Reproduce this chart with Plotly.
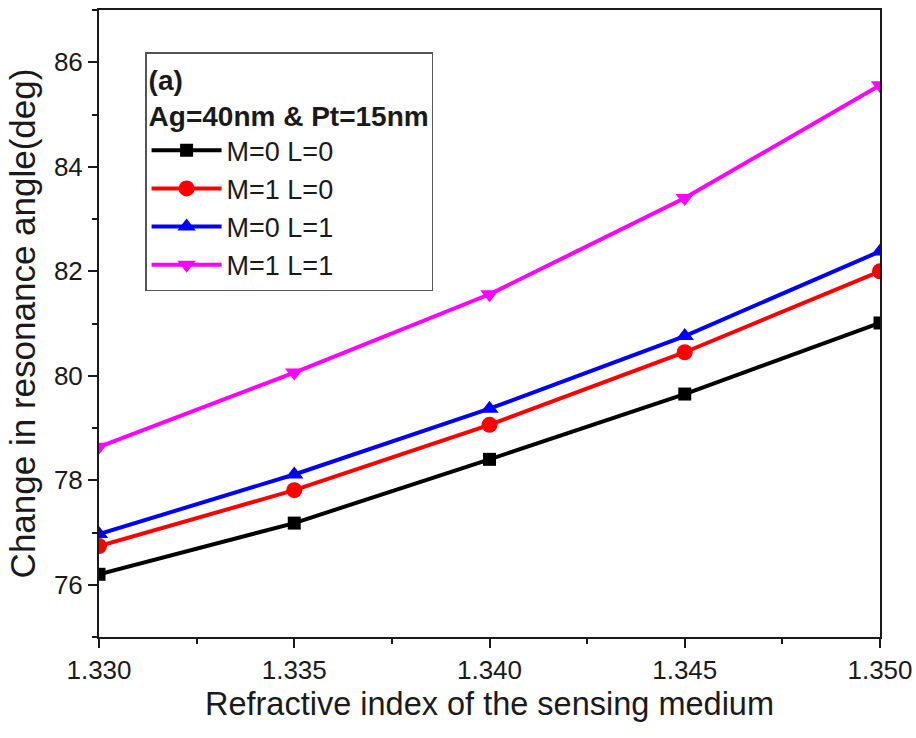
import plotly.graph_objects as go

x_ri = [1.330, 1.335, 1.340, 1.345, 1.350]
m0_l0 = [76.20, 77.18, 78.40, 79.65, 81.01]
m1_l0 = [76.74, 77.81, 79.06, 80.45, 82.00]
m0_l1 = [76.97, 78.11, 79.37, 80.76, 82.38]
m1_l1 = [78.64, 80.06, 81.56, 83.40, 85.56]

series = [
    ("M=0 L=0", m0_l0, "#000000", "square", 13),
    ("M=1 L=0", m1_l0, "#ff0000", "circle", 16),
    ("M=0 L=1", m0_l1, "#0000ff", "triangle-up", 16),
    ("M=1 L=1", m1_l1, "#ff00ff", "triangle-down", 16),
]

FONT = "Liberation Sans, Arial, sans-serif"

fig = go.Figure()
for name, ys, color, sym, size in series:
    fig.add_trace(go.Scatter(
        x=x_ri, y=ys, name=name, mode="lines+markers",
        line=dict(color=color, width=4),
        marker=dict(symbol=sym, size=size, color=color),
    ))

fig.update_layout(
    width=916, height=738,
    paper_bgcolor="white", plot_bgcolor="white",
    margin=dict(l=99, r=36, t=10, b=101),
    font=dict(family=FONT, color="#1a1a1a", size=26),
    legend=dict(
        x=0.059, y=0.933, xanchor="left", yanchor="top",
        bgcolor="white", bordercolor="#555555", borderwidth=1.5,
        font=dict(size=27, family=FONT),
        title=dict(text="<b>(a)</b><br><b>Ag=40nm & Pt=15nm</b>",
                   font=dict(size=28, family=FONT), side="top"),
        tracegroupgap=0,
        itemwidth=70,
    ),
    showlegend=True,
)

fig.update_xaxes(
    range=[1.330, 1.350], dtick=0.005, tick0=1.330, tickformat=".3f",
    showline=True, linecolor="#1a1a1a", linewidth=2, mirror=True,
    ticks="outside", ticklen=9, tickwidth=2, tickcolor="#1a1a1a",
    minor=dict(dtick=0.0025, ticks="outside", ticklen=5, tickwidth=2, tickcolor="#1a1a1a"),
    showgrid=False, zeroline=False, automargin=False,
    tickfont=dict(size=26),
    title=dict(text="Refractive index of the sensing medium", font=dict(size=32.5), standoff=8),
)
fig.update_yaxes(
    range=[75, 87], dtick=2, tick0=76,
    showline=True, linecolor="#1a1a1a", linewidth=2, mirror=True,
    ticks="outside", ticklen=9, tickwidth=2, tickcolor="#1a1a1a",
    minor=dict(dtick=1, ticks="outside", ticklen=5, tickwidth=2, tickcolor="#1a1a1a"),
    showgrid=False, zeroline=False, automargin=False,
    tickfont=dict(size=26),
    title=dict(text="Change in resonance angle(deg)", font=dict(size=35), standoff=8),
)

fig.write_html("out.html", config={"displayModeBar": False},
               post_script="document.body.style.margin='0';")
